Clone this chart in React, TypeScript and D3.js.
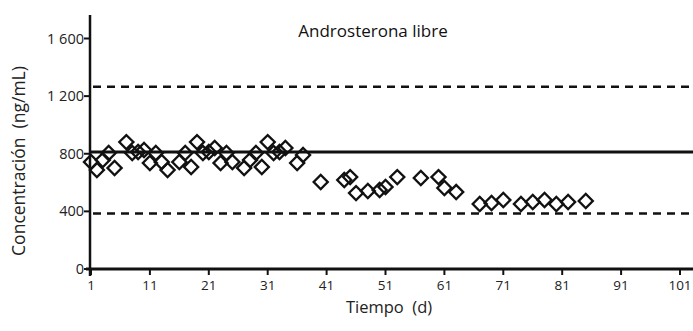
import * as d3 from 'd3'

// Androsterona libre, concentración por día
const days = [1, 2, 3, 4, 5, 7, 8, 9, 10, 11, 12, 13, 14, 16, 17, 18, 19, 20, 21, 22, 23, 24, 25, 27, 28, 29, 30, 31, 32, 33, 34, 36, 37,
  40, 44, 45, 46, 48, 50, 51, 53, 57, 60, 61, 63,
  67, 69, 71, 74, 76, 78, 80, 82, 85]
const values = [743, 687, 756, 805, 701, 881, 805, 812, 826, 736, 805, 743, 687, 743, 805, 708, 881, 805, 812, 840, 736, 805, 743, 701, 756, 805, 708, 881, 805, 812, 840, 736, 791,
  604, 618, 638, 527, 541, 548, 569, 638, 632, 638, 562, 534,
  451, 458, 479, 451, 465, 479, 451, 465, 472]

const meanLine = 812
const limitLines = [1265, 385]
const yTicks = [0, 400, 800, 1200, 1600]
const xTicks = [1, 11, 21, 31, 41, 51, 61, 71, 81, 91, 101]

const width = 693
const height = 331
const font = "'Open Sans', sans-serif"

const fmt = d3.formatLocale({ decimal: ',', thousands: ' ', grouping: [3], currency: ['', ''] }).format(',')

export default function App() {
  const x = d3.scaleLinear().domain([1, 101]).range([91, 680])
  const y = d3.scaleLinear().domain([0, 1600]).range([269, 38.5])
  const diamond = d3.symbol().type(d3.symbolSquare).size(100)()
  const x0 = 90
  const xEnd = width

  return (
    <div style={{ position: 'absolute', left: 0, top: 0 }}>
      <svg width={width} height={height} style={{ display: 'block', background: '#fff' }}>
        {/* reference lines */}
        <line x1={x0} x2={xEnd} y1={y(meanLine)} y2={y(meanLine)} stroke="#111" strokeWidth={3} />
        {limitLines.map(v => (
          <line key={v} x1={x0 + 3} x2={xEnd} y1={y(v)} y2={y(v)} stroke="#111" strokeWidth={2.5} strokeDasharray="8,6" />
        ))}

        {/* points */}
        {days.map((d, i) => (
          <path key={i} d={diamond} transform={`translate(${x(d)},${y(values[i])}) rotate(45)`}
            fill="none" stroke="#111" strokeWidth={2.3} />
        ))}

        {/* axes */}
        <line x1={x0} x2={x0} y1={15} y2={276} stroke="#111" strokeWidth={2.5} />
        <line x1={86} x2={xEnd} y1={y(0)} y2={y(0)} stroke="#111" strokeWidth={3} />
        {yTicks.map(t => (
          <g key={t}>
            <line x1={x0 - 6} x2={x0} y1={y(t)} y2={y(t)} stroke="#111" strokeWidth={2} />
            <text x={x0 - 6} y={y(t)} dy="0.35em" textAnchor="end" fontFamily={font} fontSize={14.5} fill="#222">{fmt(t)}</text>
          </g>
        ))}
        {xTicks.map(t => (
          <g key={t}>
            <line x1={x(t)} x2={x(t)} y1={y(0)} y2={y(0) + 6} stroke="#111" strokeWidth={2} />
            <text x={x(t)} y={290} textAnchor="middle" fontFamily={font} fontSize={13.5} fill="#222">{t}</text>
          </g>
        ))}

        <text x={373} y={37} textAnchor="middle" fontFamily={font} fontSize={17} fill="#111">Androsterona libre</text>
        <text x={389} y={313} textAnchor="middle" fontFamily={font} fontSize={16.5} fill="#222" style={{ whiteSpace: 'pre' }}>{'Tiempo  (d)'}</text>
        <text transform="translate(25,161) rotate(-90)" textAnchor="middle" fontFamily={font} fontSize={17.5} fill="#222" style={{ whiteSpace: 'pre' }}>{'Concentración  (ng/mL)'}</text>
      </svg>
    </div>
  )
}
